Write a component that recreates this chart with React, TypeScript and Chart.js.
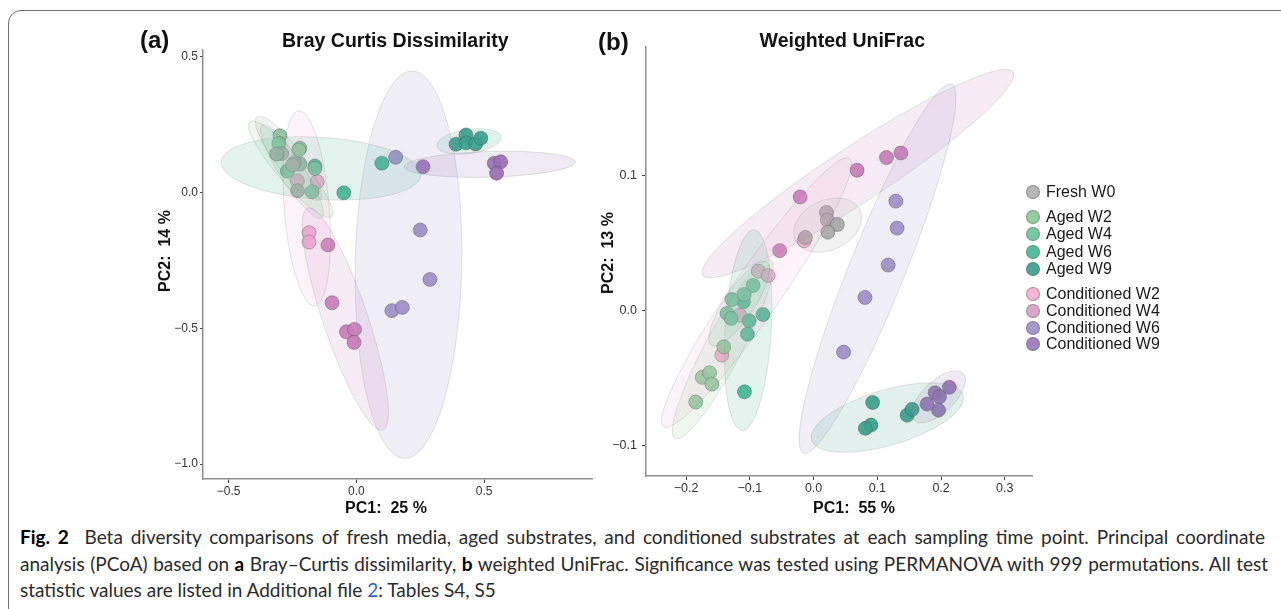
import React, { useEffect, useRef } from "react";
import { Chart, registerables } from "chart.js";

Chart.register(...registerables);

const SANS = "'Liberation Sans', Arial, Helvetica, sans-serif";
const CAPTION_FONT = "Lato, 'Liberation Sans', sans-serif";

const groupNames = [
  "Fresh W0",
  "Aged W2",
  "Aged W4",
  "Aged W6",
  "Aged W9",
  "Conditioned W2",
  "Conditioned W4",
  "Conditioned W6",
  "Conditioned W9",
];
const pointColors = ["#a9a9a9", "#8ccb98", "#6cc79e", "#43b793", "#3c9f8e", "#f2acd0", "#c97cb9", "#9d8fc8", "#9a6fb6"];
const legendColors = ["#b8b8b8", "#91d09c", "#74caa1", "#54bf9f", "#4ca697", "#f5b5d5", "#dba6cf", "#a598cd", "#a283bf"];

// ---- Panel (a): Bray Curtis Dissimilarity (PC1, PC2) ----
const bcFreshW0: [number, number][] = [[-0.292, 0.144], [-0.312, 0.142], [-0.243, 0.11], [-0.249, 0.101], [-0.23, 0.007]];
const bcAgedW2: [number, number][] = [[-0.299, 0.209], [-0.303, 0.181], [-0.221, 0.163], [-0.225, 0.157]];
const bcAgedW4: [number, number][] = [[-0.221, 0.105], [-0.27, 0.079], [-0.162, 0.089], [-0.173, 0.003]];
const bcAgedW6: [number, number][] = [[-0.162, 0.098], [-0.049, -0.001], [0.1, 0.108]];
const bcAgedW9: [number, number][] = [[0.429, 0.212], [0.39, 0.178], [0.429, 0.183], [0.467, 0.179], [0.487, 0.2]];
const bcCondW2: [number, number][] = [[-0.231, 0.043], [-0.153, 0.04], [-0.185, -0.148], [-0.185, -0.182]];
const bcCondW4: [number, number][] = [[-0.111, -0.193], [-0.095, -0.406], [-0.039, -0.513], [-0.007, -0.504], [-0.009, -0.552]];
const bcCondW6: [number, number][] = [[0.154, 0.13], [0.25, -0.138], [0.288, -0.32], [0.139, -0.435], [0.18, -0.423]];
const bcCondW9: [number, number][] = [[0.261, 0.095], [0.54, 0.108], [0.565, 0.113], [0.549, 0.071]];
const bcSeries = [bcFreshW0, bcAgedW2, bcAgedW4, bcAgedW6, bcAgedW9, bcCondW2, bcCondW4, bcCondW6, bcCondW9];

// ellipses: [group, centre x, centre y, major-axis tip x, tip y, minor/major ratio]
const bcEllipses: number[][] = [
  [7, 0.204, -0.266, 0.219, 0.4475, 0.275],
  [3, -0.138, 0.089, 0.253, 0.0645, 0.31],
  [4, 0.441, 0.188, 0.567, 0.2045, 0.37],
  [8, 0.522, 0.104, 0.857, 0.113, 0.15],
  [1, -0.257, 0.086, -0.097, -0.089, 0.22],
  [0, -0.266, 0.126, -0.143, -0.027, 0.25],
  [2, -0.252, 0.077, -0.135, -0.094, 0.22],
  [5, -0.194, -0.058, -0.225, 0.301, 0.23],
  [6, -0.043, -0.466, 0.104, -0.875, 0.19],
];
const bcXTicks = [-0.5, 0, 0.5];
const bcYTicks = [-1, -0.5, 0, 0.5];
const bcXRange = [-0.6, 0.923];
const bcYRange = [-1.055, 0.525];

// ---- Panel (b): Weighted UniFrac (PC1, PC2) ----
const wuFreshW0: [number, number][] = [[0.0202, 0.0729], [0.0217, 0.0672], [0.0372, 0.064], [0.0223, 0.0583], [-0.0129, 0.0544]];
const wuAgedW2: [number, number][] = [[-0.141, -0.0267], [-0.1746, -0.0493], [-0.1633, -0.0459], [-0.1597, -0.0543], [-0.185, -0.0676]];
const wuAgedW4: [number, number][] = [[-0.095, 0.0188], [-0.128, 0.0084], [-0.109, 0.0121], [-0.1358, -0.0019], [-0.1296, -0.0056]];
const wuAgedW6: [number, number][] = [[-0.11, 0.0067], [-0.1012, -0.0074], [-0.0795, -0.0027], [-0.1039, -0.0173], [-0.1085, -0.06]];
const wuAgedW9: [number, number][] = [[0.0926, -0.0679], [0.0899, -0.0847], [0.0812, -0.0871], [0.1468, -0.0773], [0.1546, -0.073]];
const wuCondW2: [number, number][] = [[-0.0149, 0.052], [-0.0868, 0.0294], [-0.0713, 0.0261], [-0.116, -0.0032], [-0.144, -0.0328]];
const wuCondW4: [number, number][] = [[0.0682, 0.1042], [0.1143, 0.1136], [0.137, 0.117], [-0.0211, 0.0844], [-0.0532, 0.0446]];
const wuCondW6: [number, number][] = [[0.129, 0.0813], [0.131, 0.0613], [0.117, 0.0339], [0.0806, 0.0099], [0.0471, -0.0306]];
const wuCondW9: [number, number][] = [[0.1907, -0.0607], [0.213, -0.0567], [0.1975, -0.0637], [0.196, -0.0736], [0.178, -0.0691]];
const wuSeries = [wuFreshW0, wuAgedW2, wuAgedW4, wuAgedW6, wuAgedW9, wuCondW2, wuCondW4, wuCondW6, wuCondW9];

const wuEllipses: number[][] = [
  [6, 0.0696, 0.1017, 0.313, 0.177, 0.15],
  [7, 0.1003, 0.0313, 0.2166, 0.168, 0.14],
  [0, 0.022, 0.0635, 0.0727, 0.0747, 0.7],
  [3, -0.1028, -0.0143, -0.0935, 0.0601, 0.23],
  [1, -0.1426, -0.0285, -0.0676, 0.0376, 0.18],
  [5, -0.0896, 0.0135, 0.0564, 0.1129, 0.146],
  [2, -0.1167, 0.0053, -0.0734, 0.0361, 0.3],
  [4, 0.1158, -0.0791, 0.2347, -0.0624, 0.35],
  [8, 0.196, -0.0637, 0.2347, -0.0464, 0.47],
];
const wuXTicks = [-0.2, -0.1, 0, 0.1, 0.2, 0.3];
const wuYTicks = [-0.1, 0, 0.1];
const wuXRange = [-0.263, 0.343];
const wuYRange = [-0.1224, 0.1955];

function withAlpha(hex: string, a: number) {
  const n = parseInt(hex.slice(1), 16);
  return `rgba(${(n >> 16) & 255},${(n >> 8) & 255},${n & 255},${a})`;
}

const fmtTick = (v: any) => Number(v).toFixed(1).replace("-", "\u2212");

function ellipsePlugin(ellipses: number[][]) {
  return {
    id: "ellipses",
    afterDatasetsDraw(chart: any) {
      const { ctx, chartArea, scales } = chart;
      const xs = scales.x;
      const ys = scales.y;
      ctx.save();
      ctx.beginPath();
      ctx.rect(chartArea.left, chartArea.top, chartArea.right - chartArea.left, chartArea.bottom - chartArea.top);
      ctx.clip();
      for (const [g, cx, cy, tx, ty, ratio] of ellipses) {
        const px = xs.getPixelForValue(cx);
        const py = ys.getPixelForValue(cy);
        const qx = xs.getPixelForValue(tx);
        const qy = ys.getPixelForValue(ty);
        const a = Math.hypot(qx - px, qy - py);
        const ang = Math.atan2(qy - py, qx - px);
        ctx.beginPath();
        ctx.ellipse(px, py, a, a * ratio, ang, 0, Math.PI * 2);
        ctx.fillStyle = withAlpha(pointColors[g], 0.15);
        ctx.fill();
        ctx.strokeStyle = "rgba(120,120,120,0.2)";
        ctx.lineWidth = 1;
        ctx.stroke();
      }
      ctx.restore();
    },
  };
}

type PanelProps = {
  series: [number, number][][];
  ellipses: number[][];
  xRange: number[];
  yRange: number[];
  xTicks: number[];
  yTicks: number[];
  left: number;
  top: number;
  width: number;
  height: number;
  yAxisWidth: number;
  xAxisHeight: number;
  padTop: number;
  padRight: number;
  tickFont: number;
  yTickPad: number;
  yTickLen: number;
};

function Panel(p: PanelProps) {
  const ref = useRef<HTMLCanvasElement>(null);
  useEffect(() => {
    const canvas = ref.current;
    if (!canvas) return;
    const chart = new Chart(canvas, {
      type: "scatter",
      data: {
        datasets: p.series.map((pts, i) => ({
          label: groupNames[i],
          data: pts.map(([x, y]) => ({ x, y })),
          backgroundColor: withAlpha(pointColors[i], 0.92),
          borderColor: "rgba(70,70,70,0.55)",
          borderWidth: 0.8,
          pointRadius: 7,
          pointHoverRadius: 7,
        })),
      },
      options: {
        animation: false,
        responsive: false,
        devicePixelRatio: 1,
        events: [],
        layout: { padding: { left: 0, top: p.padTop, right: p.padRight, bottom: 0 } },
        plugins: { legend: { display: false }, tooltip: { enabled: false }, title: { display: false } },
        scales: {
          x: {
            type: "linear",
            min: p.xRange[0],
            max: p.xRange[1],
            afterBuildTicks: (s: any) => {
              s.ticks = p.xTicks.map((value) => ({ value }));
            },
            afterFit: (s: any) => {
              s.height = p.xAxisHeight;
            },
            ticks: {
              autoSkip: false,
              maxRotation: 0,
              minRotation: 0,
              padding: 1,
              color: "#333",
              font: { family: SANS, size: p.tickFont },
              callback: (v: any) => fmtTick(v),
            },
            grid: { drawOnChartArea: false, drawTicks: true, tickLength: 4, tickColor: "#444", tickWidth: 1 },
            border: { display: true, color: "#8f8f8f", width: 1.5 },
          },
          y: {
            type: "linear",
            min: p.yRange[0],
            max: p.yRange[1],
            afterBuildTicks: (s: any) => {
              s.ticks = p.yTicks.map((value) => ({ value }));
            },
            afterFit: (s: any) => {
              s.width = p.yAxisWidth;
            },
            ticks: {
              autoSkip: false,
              padding: p.yTickPad,
              color: "#333",
              font: { family: SANS, size: p.tickFont },
              callback: (v: any) => fmtTick(v),
            },
            grid: { drawOnChartArea: false, drawTicks: true, tickLength: p.yTickLen, tickColor: "#444", tickWidth: 1 },
            border: { display: true, color: "#8f8f8f", width: 1.5 },
          },
        },
      } as any,
      plugins: [ellipsePlugin(p.ellipses)],
    });
    return () => chart.destroy();
  }, []);
  return (
    <canvas
      ref={ref}
      width={p.width}
      height={p.height}
      style={{ position: "absolute", left: p.left, top: p.top, width: p.width, height: p.height }}
    />
  );
}

const legendY = [191.7, 217.3, 234.3, 252.3, 269.3, 293.7, 311, 327.7, 344.3];

function abs(left: number, top: number, extra: React.CSSProperties = {}): React.CSSProperties {
  return { position: "absolute", left, top, whiteSpace: "nowrap", ...extra };
}

export default function App() {
  const line1 = useRef<HTMLDivElement>(null);
  const line2 = useRef<HTMLDivElement>(null);

  useEffect(() => {
    const fit = () => {
      const items: [HTMLDivElement | null, number][] = [
        [line1.current, 1242],
        [line2.current, 1248],
      ];
      for (const [el, target] of items) {
        if (!el) continue;
        el.style.wordSpacing = "0px";
        const w = el.getBoundingClientRect().width;
        const spaces = (el.textContent || "").split(" ").length - 1;
        if (spaces > 0) el.style.wordSpacing = `${(target - w) / spaces}px`;
      }
    };
    fit();
    if ((document as any).fonts && (document as any).fonts.ready) (document as any).fonts.ready.then(fit);
  }, []);

  const titleStyle: React.CSSProperties = {
    fontFamily: SANS,
    fontWeight: "bold",
    fontSize: 19.5,
    lineHeight: "19.5px",
    color: "#111",
    width: 400,
    textAlign: "center",
  };
  const axisTitle: React.CSSProperties = {
    fontFamily: SANS,
    fontWeight: "bold",
    fontSize: 16,
    lineHeight: "16px",
    color: "#111",
    width: 200,
    textAlign: "center",
  };

  return (
    <div style={{ position: "fixed", left: 0, top: 0, width: 1281, height: 609, overflow: "hidden", background: "#fff" }}>
      <div
        style={{
          position: "absolute",
          left: 8,
          top: 10,
          width: 1400,
          height: 800,
          border: "1px solid #6e6e6e",
          borderTopLeftRadius: 13,
          boxSizing: "border-box",
        }}
      />

      <Panel
        series={bcSeries}
        ellipses={bcEllipses}
        xRange={bcXRange}
        yRange={bcYRange}
        xTicks={bcXTicks}
        yTicks={bcYTicks}
        left={120}
        top={30}
        width={480}
        height={490}
        yAxisWidth={83}
        xAxisHeight={41}
        padTop={20}
        padRight={6}
        tickFont={12}
        yTickPad={2}
        yTickLen={3}
      />
      <Panel
        series={wuSeries}
        ellipses={wuEllipses}
        xRange={wuXRange}
        yRange={wuYRange}
        xTicks={wuXTicks}
        yTicks={wuYTicks}
        left={570}
        top={30}
        width={470}
        height={490}
        yAxisWidth={76}
        xAxisHeight={44}
        padTop={17}
        padRight={3}
        tickFont={12.5}
        yTickPad={5}
        yTickLen={4}
      />

      <div style={abs(140, 28, { fontFamily: SANS, fontWeight: "bold", fontSize: 24, lineHeight: "24px", color: "#111" })}>(a)</div>
      <div style={abs(598, 29.5, { fontFamily: SANS, fontWeight: "bold", fontSize: 24, lineHeight: "24px", color: "#111" })}>(b)</div>
      <div style={abs(395.3 - 200, 30.5, titleStyle)}>Bray Curtis Dissimilarity</div>
      <div style={abs(842.3 - 200, 30.5, titleStyle)}>Weighted UniFrac</div>

      <div style={abs(386 - 100, 500, axisTitle)}>PC1:&nbsp; 25 %</div>
      <div style={abs(854 - 100, 500, axisTitle)}>PC1:&nbsp; 55 %</div>
      <div style={abs(165 - 100, 251 - 8, { ...axisTitle, transform: "rotate(-90deg)", transformOrigin: "50% 50%" })}>PC2:&nbsp; 14 %</div>
      <div style={abs(608 - 100, 252.5 - 8, { ...axisTitle, transform: "rotate(-90deg)", transformOrigin: "50% 50%" })}>PC2:&nbsp; 13 %</div>

      {groupNames.map((name, i) => (
        <div key={name} style={abs(1025.5, legendY[i] - 8, { height: 16, display: "flex", alignItems: "center" })}>
          <span
            style={{
              display: "inline-block",
              width: 14,
              height: 14,
              borderRadius: "50%",
              background: legendColors[i],
              border: "0.8px solid rgba(110,110,110,0.55)",
              boxSizing: "border-box",
              marginRight: 6.5,
            }}
          />
          <span style={{ fontFamily: SANS, fontSize: 16, lineHeight: "16px", color: "#1a1a1a" }}>{name}</span>
        </div>
      ))}

      <div style={{ position: "absolute", left: 20, top: 524, fontFamily: CAPTION_FONT, fontSize: 19, lineHeight: "26.5px", color: "#2b2b2b" }}>
        <div ref={line1} style={{ display: "inline-block", whiteSpace: "nowrap" }}>
          <b style={{ color: "#000" }}>Fig. 2</b> &nbsp;Beta diversity comparisons of fresh media, aged substrates, and conditioned substrates at each sampling time point. Principal coordinate
        </div>
        <br />
        <div ref={line2} style={{ display: "inline-block", whiteSpace: "nowrap" }}>
          analysis (PCoA) based on <b style={{ color: "#000" }}>a</b> Bray–Curtis dissimilarity, <b style={{ color: "#000" }}>b</b> weighted UniFrac. Significance was tested using PERMANOVA with 999 permutations. All test
        </div>
        <br />
        <div style={{ display: "inline-block", whiteSpace: "nowrap" }}>
          statistic values are listed in Additional file <span style={{ color: "#2f5fd0" }}>2</span>: Tables S4, S5
        </div>
      </div>
    </div>
  );
}
